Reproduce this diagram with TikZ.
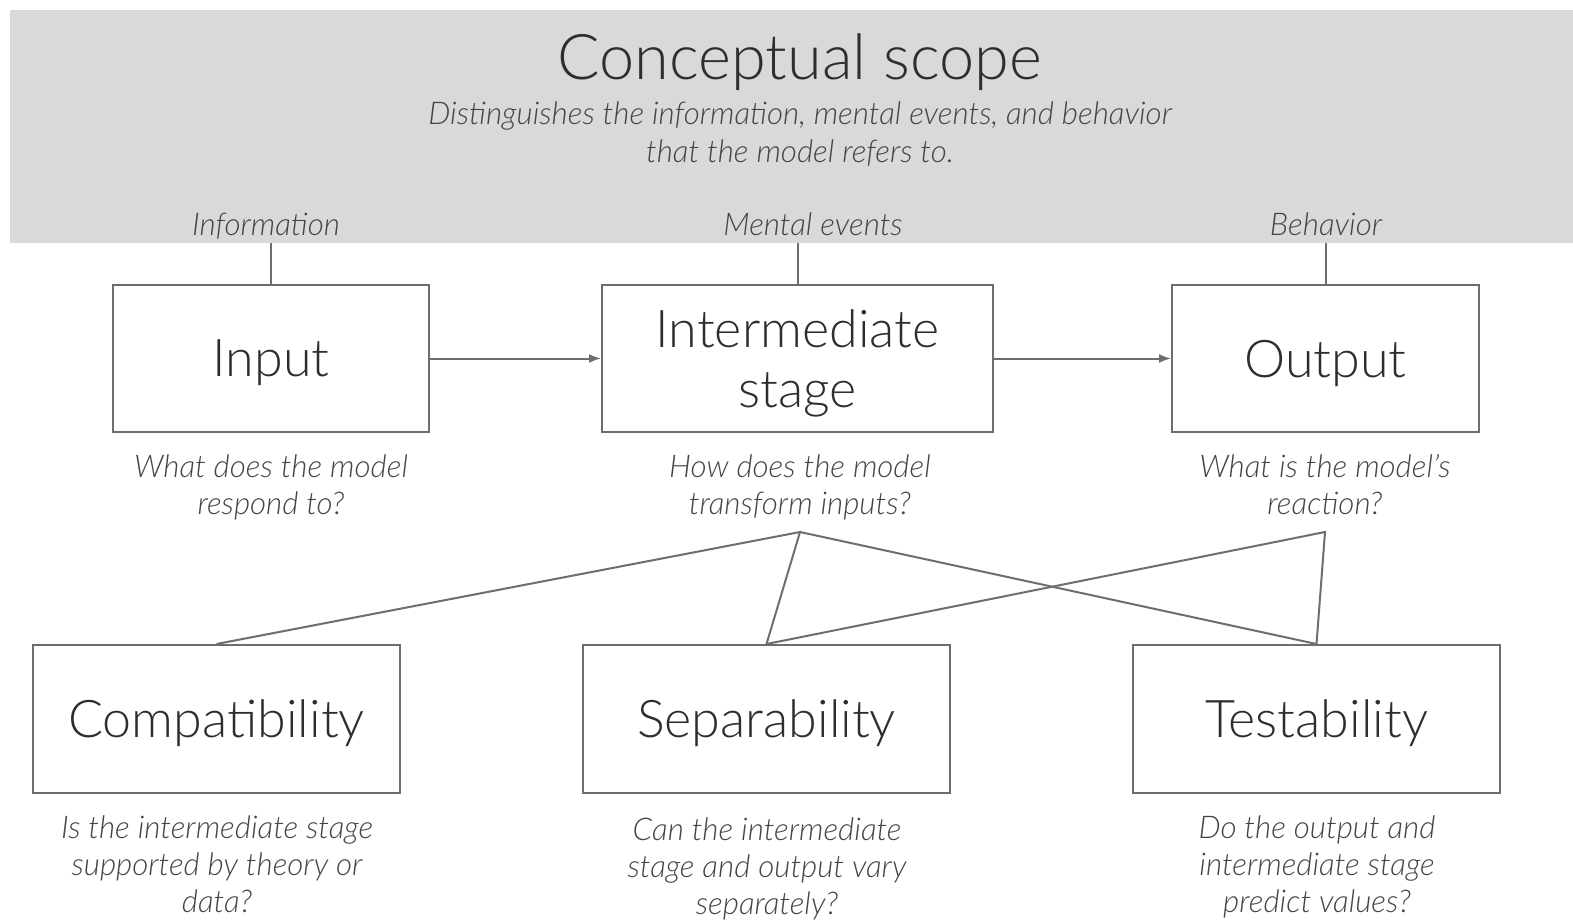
\documentclass[tikz,border=0pt]{standalone}
\usepackage{fontspec}
\setmainfont{Lato Light}[ItalicFont={Lato Light Italic}]
\usetikzlibrary{arrows.meta}
\definecolor{bandgray}{HTML}{D9D9D9}
\definecolor{inkdark}{HTML}{2E2E2E}
\definecolor{inkmid}{HTML}{444444}
\definecolor{linegray}{HTML}{6E6E6E}
\tikzset{
  stagebox/.style={draw=linegray, line width=2pt, fill=white, inner sep=0pt,
    text=inkdark, align=center, text depth=-8pt, font=\fontsize{52}{60}\selectfont},
  question/.style={text=inkmid, align=center, anchor=north,
    font=\itshape\fontsize{31.3}{37}\selectfont},
  scopelabel/.style={text=inkmid, anchor=base, font=\itshape\fontsize{31.3}{36}\selectfont},
  link/.style={draw=linegray, line width=2pt},
  flow/.style={link, -{Latex[length=12pt,width=9pt]}},
}
\begin{document}
\begin{tikzpicture}[x=1pt, y=-1pt]
  \useasboundingbox (0,0) rectangle (1573,923);
  \fill[white] (0,0) rectangle (1573,923);

  % conceptual scope band
  \node[fill=bandgray, inner sep=0pt, minimum width=1563pt, minimum height=233pt,
        anchor=north west] (band) at (10,10) {};
  \node[text=inkdark, anchor=base, font=\fontsize{63}{70}\selectfont] (title) at (800,80) {Conceptual scope};
  \node[text=inkmid, align=center, anchor=north, font=\itshape\fontsize{31.3}{38}\selectfont] (subtitle) at (800,98)
    {Distinguishes the information, mental events, and behavior\\that the model refers to.};
  \node[scopelabel] (linfo) at (266,235) {Information};
  \node[scopelabel] (lmental) at (813,235) {Mental events};
  \node[scopelabel] (lbehav) at (1326,235) {Behavior};

  % processing stages
  \node[stagebox, minimum width=316pt, minimum height=147pt] (input) at (271,358.5) {Input};
  \node[stagebox, minimum width=391pt, minimum height=147pt] (inter) at (797.5,358.5) {Intermediate\\stage};
  \node[stagebox, minimum width=307pt, minimum height=147pt] (output) at (1325.5,358.5) {Output};

  \draw[link] (input.north |- band.south) -- (input.north);
  \draw[link] (inter.north |- band.south) -- (inter.north);
  \draw[link] (output.north |- band.south) -- (output.north);
  \draw[flow] (input.east) -- (inter.west);
  \draw[flow] (inter.east) -- (output.west);

  \node[question] (qinput) at (271,451) {What does the model\\respond to?};
  \node[question] (qinter) at (800,451) {How does the model\\transform inputs?};
  \node[question] (qoutput) at (1325,451) {What is the model's\\reaction?};

  % criteria
  \node[stagebox, minimum width=367pt, minimum height=148pt] (compat) at (216.5,719) {Compatibility};
  \node[stagebox, minimum width=367pt, minimum height=148pt] (separ) at (766.5,719) {Separability};
  \node[stagebox, minimum width=367pt, minimum height=148pt] (testab) at (1316.5,719) {Testability};

  \coordinate (apexinter) at (800,532);
  \coordinate (apexoutput) at (1325,532);
  \draw[link] (compat.north) -- (apexinter) -- (separ.north);
  \draw[link] (apexinter) -- (testab.north);
  \draw[link] (separ.north) -- (apexoutput) -- (testab.north);

  \node[question] (qcompat) at (217,812) {Is the intermediate stage\\supported by theory or\\data?};
  \node[question] (qsepar) at (767,814) {Can the intermediate\\stage and output vary\\separately?};
  \node[question] (qtestab) at (1317,812) {Do the output and\\intermediate stage\\predict values?};
\end{tikzpicture}
\end{document}
